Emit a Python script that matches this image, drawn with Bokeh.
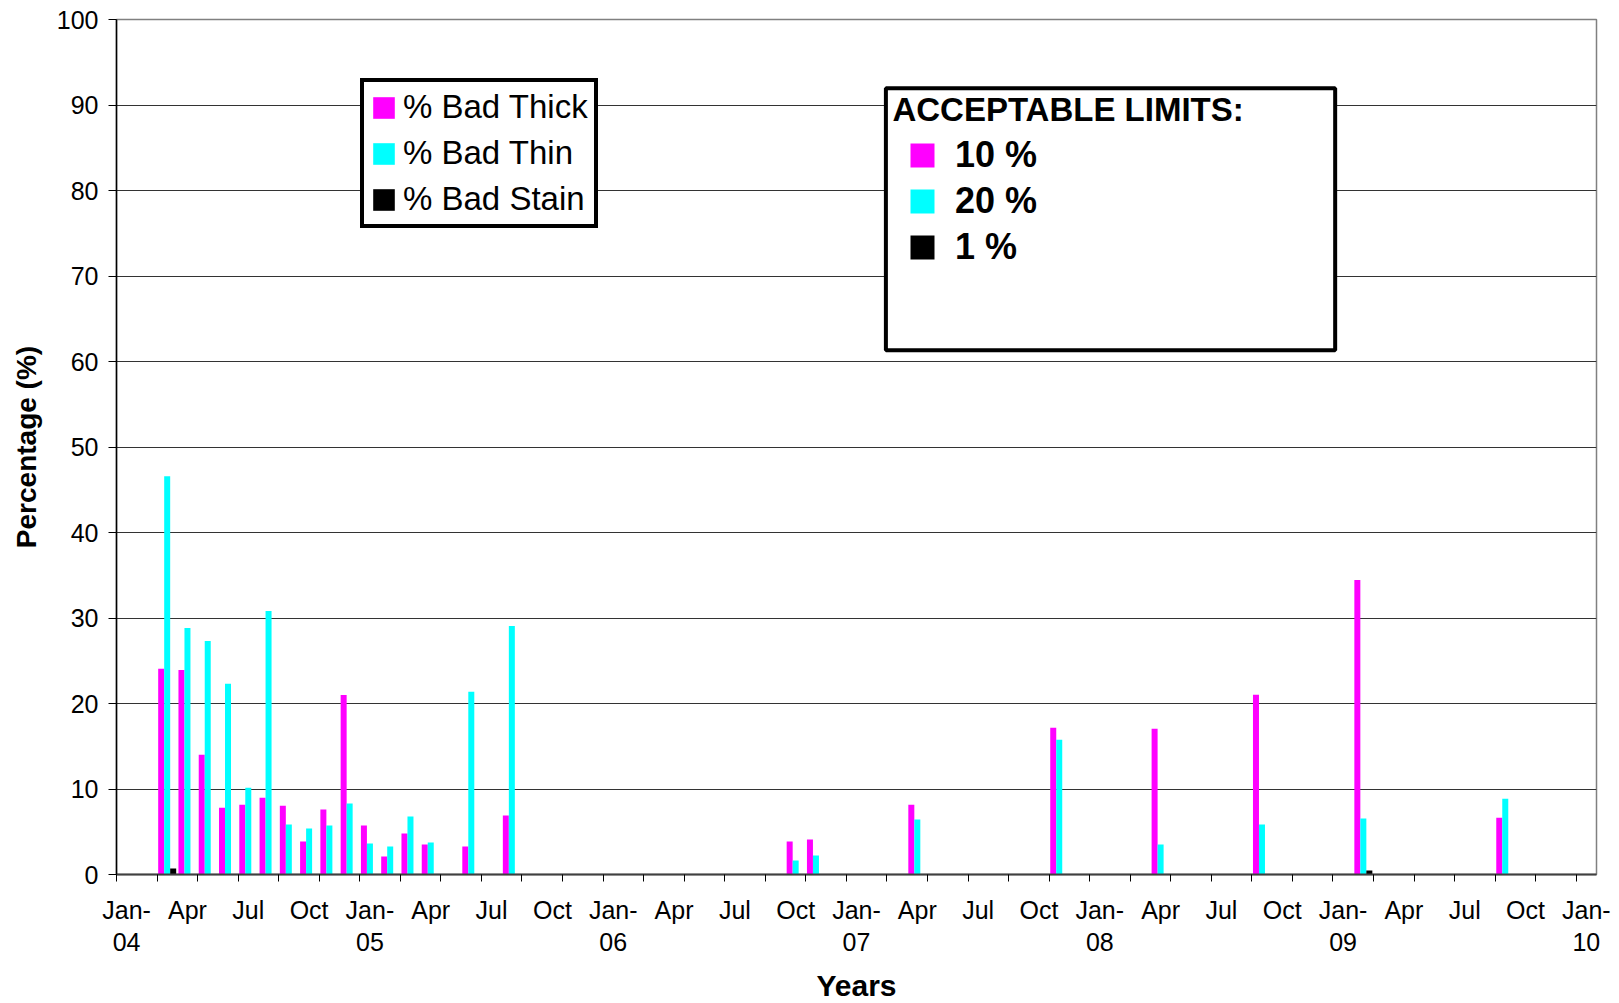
from bokeh.plotting import figure
from bokeh.models import (Range1d, FixedTicker, SingleIntervalTicker, Legend, LegendItem,
                          Label, BoxAnnotation, ColumnDataSource)
from bokeh.transform import dodge
from bokeh.embed import file_html
from bokeh.resources import INLINE

# ---------------- data ----------------
months = ["2004-03", "2004-04", "2004-05", "2004-06", "2004-07", "2004-08", "2004-09",
          "2004-10", "2004-11", "2004-12", "2005-01", "2005-02", "2005-03", "2005-04",
          "2005-06", "2005-08", "2006-10", "2006-11", "2007-04", "2007-11", "2008-04",
          "2008-09", "2009-02", "2009-09"]
bad_thick = [24.05, 23.93, 14.0, 7.82, 8.17, 8.99, 8.05, 3.85, 7.59, 21.0, 5.72, 2.10,
             4.79, 3.50, 3.27, 6.89, 3.85, 4.09, 8.17, 17.16, 17.04, 21.01, 34.44, 6.65]
bad_thin = [46.58, 28.83, 27.3, 22.3, 10.16, 30.82, 5.84, 5.37, 5.72, 8.29, 3.62, 3.27,
            6.77, 3.74, 21.36, 29.07, 1.63, 2.22, 6.42, 15.76, 3.50, 5.84, 6.54, 8.87]
bad_stain = [0.70, 0, 0, 0, 0, 0, 0, 0, 0, 0, 0, 0,
             0, 0, 0, 0, 0, 0, 0, 0, 0, 0, 0.47, 0]

first_year = 2004
n_months = 73                      # Jan-04 ... Jan-10 (category axis)
quarter_names = ["Jan-", "Apr", "Jul", "Oct"]
year_labels = ["04", "05", "06", "07", "08", "09", "10"]
series_names = ["% Bad Thick", "% Bad Thin", "% Bad Stain"]
limit_labels = ["10 %", "20 %", "1 %"]

FONT = "Liberation Sans"


def month_index(s):
    y, m = s.split("-")
    return (int(y) - first_year) * 12 + int(m) - 1


src = ColumnDataSource(dict(
    x=[month_index(m) + 0.5 for m in months],
    thick=bad_thick, thin=bad_thin, stain=bad_stain))

# ---------------- figure ----------------
p = figure(frame_width=1480, frame_height=855,
           x_range=Range1d(0, n_months), y_range=Range1d(0, 100),
           output_backend="svg", toolbar_location=None,
           min_border_left=116, min_border_right=20, min_border_top=19, min_border_bottom=126,
           background_fill_color="white", border_fill_color="white")
p.outline_line_color = "#808080"
p.outline_line_width = 1.5

bw = 0.296
r1 = p.vbar(x=dodge("x", -bw, range=p.x_range), top="thick", width=bw, source=src,
            fill_color="#FF00FF", line_color=None)
r2 = p.vbar(x=dodge("x", 0, range=p.x_range), top="thin", width=bw, source=src,
            fill_color="#00FFFF", line_color=None)
r3 = p.vbar(x=dodge("x", bw, range=p.x_range), top="stain", width=bw, source=src,
            fill_color="#000000", line_color=None)

# x axis: labels every quarter, tick marks every 2 months
label_ticks = [i + 0.5 for i in range(0, n_months, 3)]
overrides = {}
for i in range(0, n_months, 3):
    q = (i // 3) % 4
    if q == 0:
        overrides[i + 0.5] = quarter_names[0] + "\n" + year_labels[i // 12]
    else:
        overrides[i + 0.5] = quarter_names[q]
xa = p.xaxis[0]
xa.ticker = FixedTicker(ticks=label_ticks, minor_ticks=list(range(0, n_months, 2)))
xa.major_label_overrides = overrides
xa.major_tick_out = 0
xa.major_tick_in = 0
xa.minor_tick_out = 7
xa.minor_tick_in = 0
xa.minor_tick_line_color = "black"
xa.major_label_standoff = 14
xa.major_label_text_font = FONT
xa.major_label_text_font_size = "25px"
xa.major_label_text_line_height = 1.16
xa.major_label_text_color = "black"
xa.axis_line_color = "#404040"
xa.axis_line_width = 2
xa.axis_label = "Years"
xa.axis_label_text_font = FONT
xa.axis_label_text_font_style = "bold"
xa.axis_label_text_font_size = "30px"
xa.axis_label_text_color = "black"
xa.axis_label_standoff = 10

ya = p.yaxis[0]
ya.ticker = SingleIntervalTicker(interval=10, num_minor_ticks=0)
ya.major_tick_out = 8
ya.major_tick_in = 0
ya.major_tick_line_color = "black"
ya.minor_tick_out = 0
ya.minor_tick_in = 0
ya.major_label_standoff = 10
ya.major_label_text_font = FONT
ya.major_label_text_font_size = "25px"
ya.major_label_text_color = "black"
ya.axis_line_color = "black"
ya.axis_line_width = 1.5
ya.axis_label = "Percentage (%)"
ya.axis_label_text_font = FONT
ya.axis_label_text_font_style = "bold"
ya.axis_label_text_font_size = "28px"
ya.axis_label_text_color = "black"
ya.axis_label_standoff = 12

p.xgrid.visible = False
p.ygrid.ticker = SingleIntervalTicker(interval=10, num_minor_ticks=0)
p.ygrid.grid_line_color = "#333333"
p.ygrid.grid_line_width = 1

# ---------------- legend 1 ----------------
leg1 = Legend(items=[LegendItem(label=series_names[0], renderers=[r1]),
                     LegendItem(label=series_names[1], renderers=[r2]),
                     LegendItem(label=series_names[2], renderers=[r3])],
              location=(244, 646), glyph_width=27, glyph_height=27, label_standoff=6,
              spacing=8, padding=6, margin=0,
              border_line_color="black", border_line_width=4, border_line_alpha=1,
              background_fill_color="white", background_fill_alpha=1,
              label_text_font=FONT, label_text_font_size="33px", label_text_color="black")
p.add_layout(leg1)

# ---------------- acceptable limits box ----------------
box = BoxAnnotation(left=37.95, right=60.11, top=91.96, bottom=61.32,
                    fill_color="white", fill_alpha=1, line_color="black", line_width=4,
                    line_alpha=1)
p.add_layout(box)
title = Label(x=38.27, y=89.47, text="ACCEPTABLE LIMITS:", text_font=FONT,
              text_font_style="bold", text_font_size="33px", text_baseline="alphabetic",
              text_color="black")
p.add_layout(title)
leg2 = Legend(items=[LegendItem(label=limit_labels[0], renderers=[r1]),
                     LegendItem(label=limit_labels[1], renderers=[r2]),
                     LegendItem(label=limit_labels[2], renderers=[r3])],
              location=(791, 606), glyph_width=30, glyph_height=30, label_standoff=18,
              spacing=4, padding=0, margin=0,
              border_line_alpha=0, background_fill_alpha=0,
              label_text_font=FONT, label_text_font_style="bold",
              label_text_font_size="36px", label_text_color="black")
p.add_layout(leg2)

open("out.html", "w").write(file_html(p, INLINE))
